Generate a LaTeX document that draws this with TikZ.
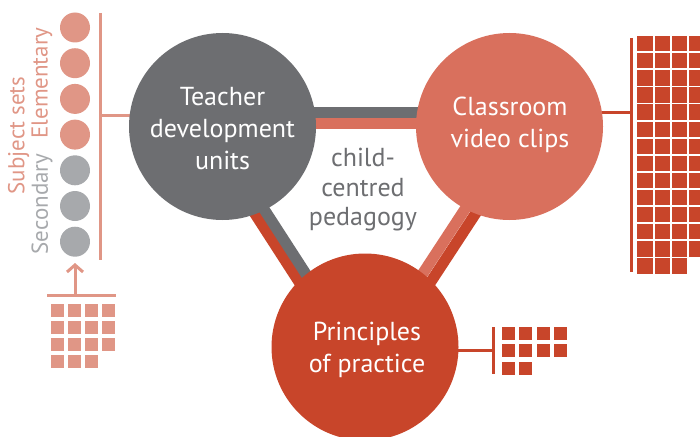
\documentclass[tikz,border=0pt]{standalone}
\usepackage{fontspec}
\setmainfont{PT Sans}
\usetikzlibrary{arrows.meta,calc}
\definecolor{dgray}{HTML}{6D6E71}
\definecolor{lgray}{HTML}{A7A9AC}
\definecolor{salm}{HTML}{D9705D}
\definecolor{lsalm}{HTML}{E09686}
\definecolor{rred}{HTML}{C8452A}
\tikzset{
  bigcirc/.style={circle, minimum size=187pt, inner sep=0pt},
  dot/.style={circle, minimum size=30pt, inner sep=0pt},
  bar/.style={line width=11pt},
  thin/.style={line width=3pt},
  intext/.style={text=white, align=center, font=\fontsize{26}{32}\selectfont},
  midtext/.style={text=dgray, align=center, font=\fontsize{26}{29.5}\selectfont},
  sidetext/.style={rotate=90, font=\fontsize{23}{25}\selectfont, inner sep=0pt}
}
\begin{document}
\begin{tikzpicture}[x=1pt,y=-1pt]
\useasboundingbox (0,0) rectangle (700,436);
\clip (0,0) rectangle (700,436);
% bar end coordinates
\coordinate (tg1) at (222.5,112.5); \coordinate (tg2) at (509.5,112.5);
\coordinate (ts1) at (222.5,123.5); \coordinate (ts2) at (509.5,123.5);
\coordinate (lr1) at (198.6,126.5); \coordinate (lr2) at (341.1,347);
\coordinate (lg1) at (210.6,126.5); \coordinate (lg2) at (353.1,347);
\coordinate (rs1) at (519.1,126.5); \coordinate (rs2) at (374.6,347);
\coordinate (rr1) at (532.6,126.5); \coordinate (rr2) at (388.1,347);
% bars
\draw[bar, dgray] (tg1) -- (tg2);
\draw[bar, salm] (ts1) -- (ts2);
\draw[bar, rred] (lr1) -- (lr2);
\draw[bar, dgray] (lg1) -- (lg2);
\draw[bar, salm] (rs1) -- (rs2);
\draw[bar, rred] (rr1) -- (rr2);
% connector lines to side panels (drawn under circles)
\coordinate (lvt) at (100,13); \coordinate (lvb) at (100,260); \coordinate (lv) at (100,115);
\coordinate (rvt) at (631.7,38); \coordinate (rvb) at (631.7,272); \coordinate (rv) at (631.7,112.7);
\coordinate (pvt) at (493.3,327); \coordinate (pvb) at (493.3,374); \coordinate (pv) at (493.3,350.7);
\draw[thin, lsalm] (lv) -- (222.5,115);
\draw[thin, rred] (509.5,112.7) -- (rv);
\draw[thin, rred] (365,350.7) -- (pv);
% circles
\node[bigcirc, fill=dgray] (A) at (222.5,126.5) {};
\node[bigcirc, fill=salm] (B) at (509.5,126.5) {};
\node[bigcirc, fill=rred] (C) at (365,347) {};
% circle texts
\node[intext] (At) at (222.5,128.5) {Teacher\\development\\units};
\node[intext] (Bt) at (510,125) {Classroom\\video clips};
\node[intext] (Ct) at (367,350) {Principles\\of practice};
\node[midtext] (M) at (363,190) {child-\\centred\\pedagogy};
% left panel
\draw[thin, lsalm] (lvt) -- (lvb);
\foreach \i/\c in {1/lsalm,2/lsalm,3/lsalm,4/lsalm,5/lgray,6/lgray,7/lgray}{
  \node[dot, fill=\c] (d\i) at (75,{27.5+35.7*(\i-1)}) {};
}
\node[sidetext, text=lsalm] (subj) at (18.5,135.5) {Subject sets};
\node[sidetext, text=lsalm] (elem) at (42,83) {Elementary};
\node[sidetext, text=lgray] (sec) at (42,204) {Secondary};
\coordinate (hl1) at (47,295); \coordinate (hl2) at (116,295); \coordinate (ab) at (75,295); \coordinate (at) at (75,263);
\draw[thin, lsalm] (hl1) -- (hl2);
\draw[thin, lsalm, -{Straight Barb[length=7pt,width=16pt]}] (ab) -- (at);
\foreach \r/\n in {0/4,1/4,2/4,3/3}{
  \foreach \k in {1,...,\n}{
    \fill[lsalm] ({51+17*(\k-1)},{304.3+17*\r}) rectangle ++(12.7,12.7);
  }
}
% right grid
\draw[thin, rred] (rvt) -- (rvb);
\foreach \r in {0,...,13}{
  \pgfmathtruncatemacro{\n}{\r==13 ? 3 : 4}
  \foreach \k in {1,...,\n}{
    \fill[rred] ({637.3+17.3*(\k-1)},{36+17.1*\r}) rectangle ++(15.3,15.3);
  }
}
% principles grid
\draw[line width=2.7pt, rred] (pvt) -- (pvb);
\foreach \r/\n in {0/4,1/4,2/2}{
  \foreach \k in {1,...,\n}{
    \fill[rred] ({502+17.3*(\k-1)},{327.3+17.1*\r}) rectangle ++(13,13);
  }
}
\end{tikzpicture}
\end{document}
